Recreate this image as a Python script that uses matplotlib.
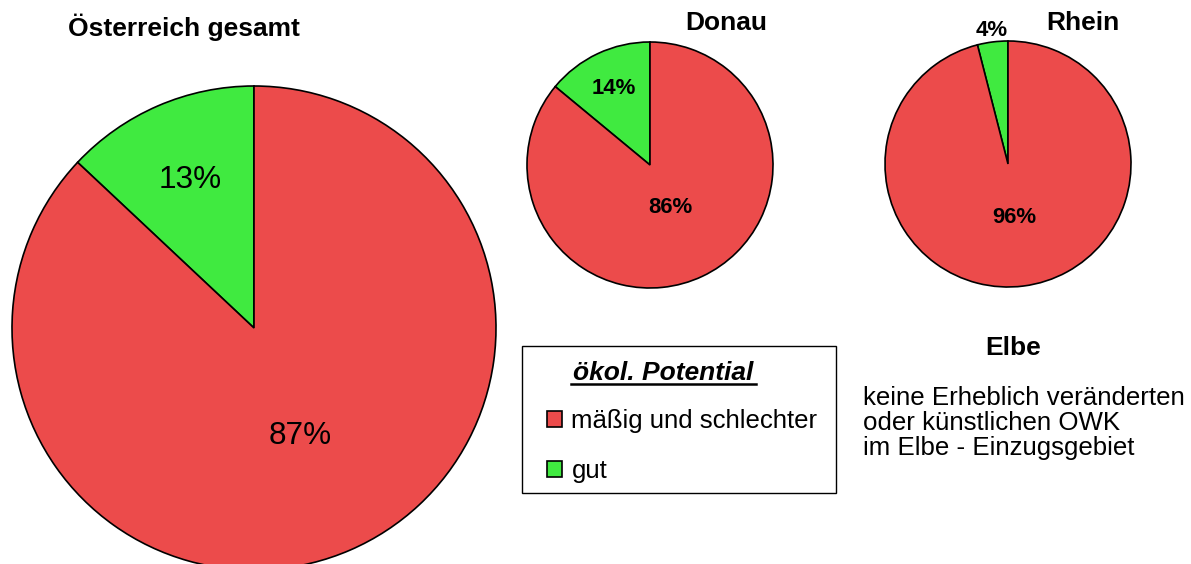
import matplotlib.pyplot as plt
from matplotlib.patches import Rectangle
import numpy as np

plt.rcParams['font.family'] = ['Liberation Sans', 'DejaVu Sans']

regions = ['Österreich gesamt', 'Donau', 'Rhein']
gut = [13, 14, 4]
maessig = [87, 86, 96]
legend_labels = ['mäßig und schlechter', 'gut']
legend_title = 'ökol. Potential'
elbe_title = 'Elbe'
elbe_text = 'keine Erheblich veränderten\noder künstlichen OWK\nim Elbe - Einzugsgebiet'

RED = '#EC4B4B'
GREEN = '#40EA40'

W, H = 1191, 564
fig = plt.figure(figsize=(11.91, 5.64), dpi=100)
ax = fig.add_axes([0, 0, 1, 1])

# layout in pixel coords (y measured from top)
layout = [
    dict(c=(254, 328), r=242, d=(0.665, 0.485), fs=22.7, fw='normal', t=(184, 27)),
    dict(c=(650, 165), r=123, d=(0.69, 0.38), fs=15.9, fw='bold', t=(726, 23)),
    dict(c=(1008, 164), r=123, d=(1.09, 0.44), fs=15.9, fw='bold', t=(1083, 23)),
]

handles = None
for name, g, m, lay in zip(regions, gut, maessig, layout):
    cx, cy = lay['c']
    r = lay['r']
    wedges, _ = ax.pie([g, m], colors=[GREEN, RED], startangle=90, counterclock=True,
                       center=(cx, H - cy), radius=r,
                       wedgeprops=dict(edgecolor='black', linewidth=1.2))
    if handles is None:
        handles = [wedges[1], wedges[0]]
    for w, v, d in zip(wedges, [g, m], lay['d']):
        th = np.deg2rad((w.theta1 + w.theta2) / 2)
        ax.text(cx + d * r * np.cos(th), H - cy + d * r * np.sin(th), f'{v}%',
                ha='center', va='center', fontsize=lay['fs'], fontweight=lay['fw'])
    ax.text(lay['t'][0], H - lay['t'][1], name, ha='center', va='center',
            fontsize=19, fontweight='bold')

# legend
ax.add_patch(Rectangle((522, H - 493), 314, 147, fill=False, edgecolor='black', linewidth=1))
ax.text(663, H - 373, legend_title, ha='center', va='center', fontsize=19,
        fontweight='bold', fontstyle='italic')
ax.plot([571, 756], [H - 384, H - 384], color='black', linewidth=1.8)
ax.legend(handles, legend_labels, loc='center left', bbox_to_anchor=(547, H - 446),
          bbox_transform=ax.transData, frameon=False, fontsize=18.5,
          handlelength=0.6, handleheight=0.6, handletextpad=0.35,
          labelspacing=1.0, borderpad=0, borderaxespad=0)

# Elbe note
ax.text(1013, H - 348, elbe_title, ha='center', va='center', fontsize=19, fontweight='bold')
ax.text(863, H - 423, elbe_text, ha='left', va='center', fontsize=18.6, linespacing=1.03)

ax.set_xlim(0, W)
ax.set_ylim(0, H)
ax.set_aspect('equal')
ax.axis('off')

plt.savefig('out.png', dpi=100)
